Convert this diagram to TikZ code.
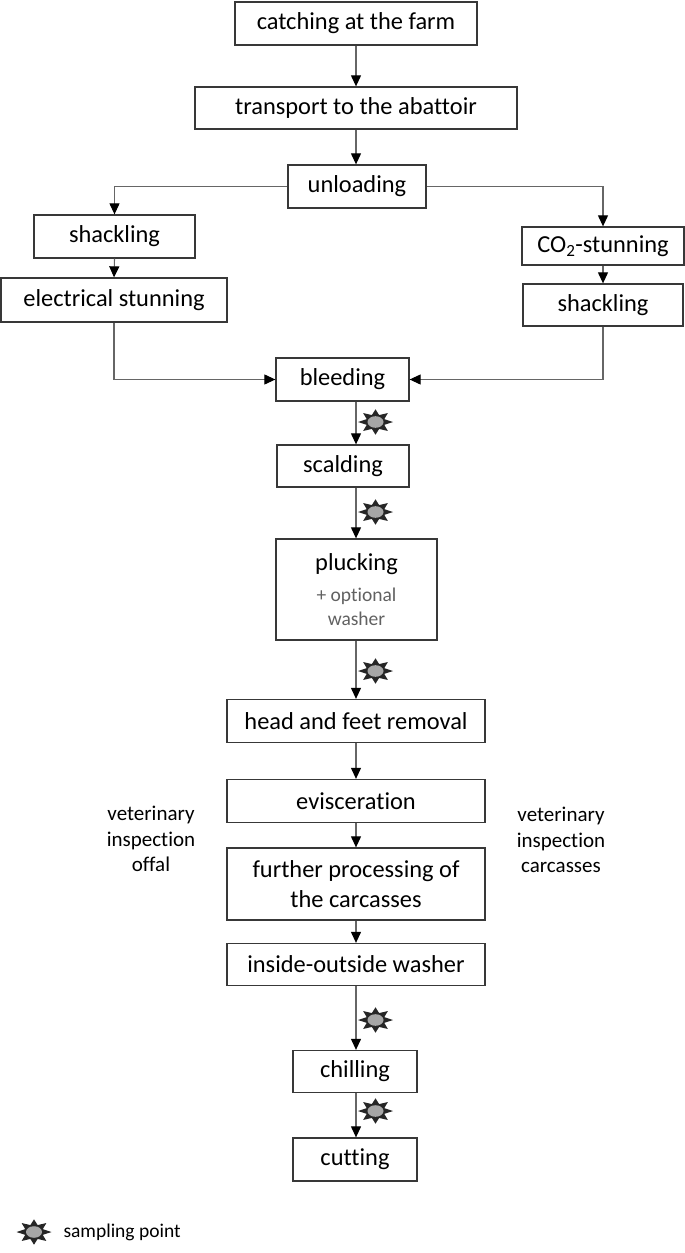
\documentclass[tikz,border=0pt]{standalone}
\usepackage{fontspec}
\setmainfont[Ligatures=NoCommon]{Carlito}
\usetikzlibrary{arrows.meta}

\newcommand{\boxfont}{\fontsize{24.4}{30}\selectfont}
\newcommand{\sidefont}{\fontsize{21}{25.5}\selectfont}
\newcommand{\notefont}{\fontsize{19.5}{23}\selectfont}

\tikzset{
  stepbox/.style={draw=black!78, line width=1.3pt, font=\boxfont, inner sep=0pt, align=center},
  flow/.style={draw=black!60, line width=1.1pt, -{Triangle[width=10pt,length=11pt,color=black]}},
  sampling/.pic={
    \fill[black!85] (0:17.5 and 12.7) \foreach \a in {45,90,...,315} { -- (\a-22.5:9.5 and 7.5) -- (\a:17.5 and 12.7)} -- (337.5:9.5 and 7.5) -- cycle;
    \fill[black!35] (0,0) ellipse (8 and 5.8);
  }
}

\begin{document}
\begin{tikzpicture}[x=1pt, y=-1pt]
  \useasboundingbox (0,0) rectangle (685,1253);
  \coordinate (axis) at (356,0);

  % main chain
  \node[stepbox, minimum width=242, minimum height=43] (catch) at (356,23.5) {catching at the farm};
  \node[stepbox, minimum width=322, minimum height=42] (transport) at (356,108) {transport to the abattoir};
  \node[stepbox, minimum width=138, minimum height=43] (unload) at (357,186.5) {unloading};

  % electrical branch
  \node[stepbox, minimum width=161, minimum height=43] (shackL) at (114.5,236.5) {shackling};
  \node[stepbox, minimum width=226, minimum height=44] (elec) at (114,300) {electrical stunning};

  % gas branch
  \node[stepbox, minimum width=162, minimum height=38] (co2) at (603,246) {CO\textsubscript{2}-stunning};
  \node[stepbox, minimum width=160, minimum height=42] (shackR) at (603,305) {shackling};

  \node[stepbox, minimum width=133, minimum height=43] (bleed) at (342.5,379.5) {bleeding};
  \node[stepbox, minimum width=132, minimum height=42] (scald) at (343,466) {scalding};
  \node[stepbox, minimum width=161, minimum height=101] (pluck) at (356.5,589.5)
    {plucking\\[1pt]{\notefont\color{black!62}+ optional}\\[-6pt]{\notefont\color{black!62}washer}};
  \node[stepbox, minimum width=258, minimum height=43] (head) at (356,721) {head and feet removal};
  \node[stepbox, minimum width=258, minimum height=43] (evisc) at (356,801) {evisceration};
  \node[stepbox, minimum width=258, minimum height=72] (further) at (356,884) {further processing of\\the carcasses};
  \node[stepbox, minimum width=258, minimum height=42] (washer) at (356,964.5) {inside-outside washer};
  \node[stepbox, minimum width=124, minimum height=42] (chill) at (355,1071.5) {chilling};
  \node[stepbox, minimum width=124, minimum height=43] (cut) at (355,1159.5) {cutting};

  % inspections
  \node[font=\sidefont, align=center] (offal) at (151,839) {veterinary\\inspection\\offal};
  \node[font=\sidefont, align=center] (carcass) at (561,840) {veterinary\\inspection\\carcasses};

  % connectors
  \foreach \a/\b in {catch/transport, transport/unload, bleed/scald, scald/pluck, pluck/head,
                     head/evisc, evisc/further, further/washer, washer/chill, chill/cut}
    \draw[flow] (\a.south -| axis) -- (\b.north -| axis);
  \draw[flow] (unload.west) -| (shackL.north);
  \draw[flow] (unload.east) -| (co2.north);
  \draw[flow] (shackL.south) -- (elec.north);
  \draw[flow] (co2.south) -- (shackR.north);
  \draw[flow] (elec.south) |- (bleed.west);
  \draw[flow] (shackR.south) |- (bleed.east);

  % sampling points
  \foreach \y in {422,512,671,1020,1111}
    \pic at (375.5,\y) {sampling};

  % legend
  \pic at (34,1232) {sampling};
  \node[font=\notefont, anchor=west] (legend) at (60,1232) {sampling point};
\end{tikzpicture}
\end{document}
